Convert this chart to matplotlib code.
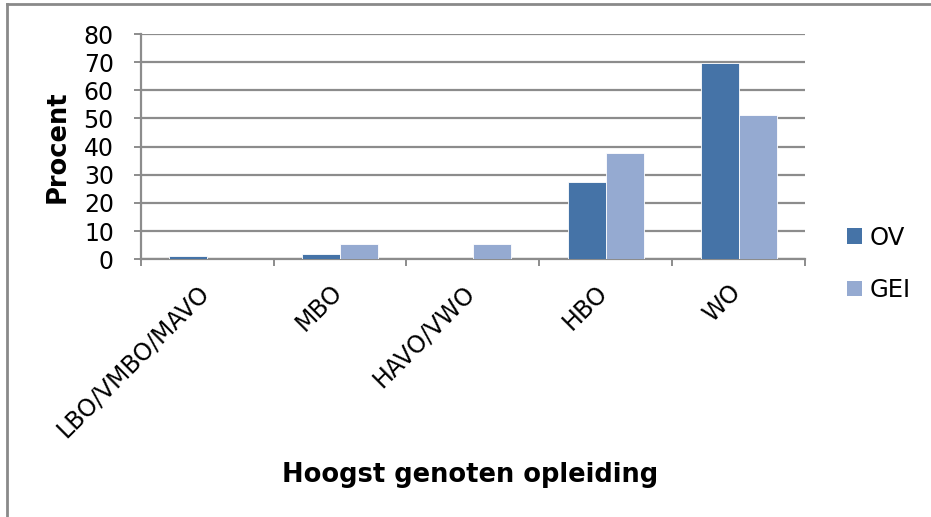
import matplotlib
matplotlib.use("Agg")
import matplotlib.pyplot as plt
import matplotlib.transforms as mtransforms
import numpy as np
from matplotlib.patches import Patch
from matplotlib.lines import Line2D

categories = ["LBO/VMBO/MAVO", "MBO", "HAVO/VWO", "HBO", "WO"]
series_names = ["OV", "GEI"]
ov_values = [1.0, 2.0, 0.0, 27.3, 69.6]
gei_values = [0.0, 5.3, 5.3, 37.7, 51.3]
yticks = [0, 10, 20, 30, 40, 50, 60, 70, 80]

c_ov = "#4573A7"
c_gei = "#95AAD1"
grid_c = "#8c8c8c"

plt.rcParams['font.family'] = ['DejaVu Sans']

fig = plt.figure(figsize=(9.31, 5.17), dpi=100)
ax = fig.add_axes([0.1511, 0.4985, 0.8647 - 0.1511, 0.9342 - 0.4985])

x = np.arange(len(categories))
w = 1 / 3.5
ax.bar(x - w / 2, ov_values, width=w, color=c_ov, edgecolor="white", linewidth=0.6, zorder=3)
ax.bar(x + w / 2, gei_values, width=w, color=c_gei, edgecolor="white", linewidth=0.6, zorder=3)

ax.set_xlim(-0.5, len(categories) - 0.5)
ax.set_ylim(0, 80)
ax.set_yticks(yticks)
ax.set_yticklabels([str(v) for v in yticks], fontsize=17)
ax.yaxis.grid(True, color=grid_c, linewidth=1.6, zorder=0)
ax.set_axisbelow(True)

# category boundary ticks
ax.set_xticks(np.arange(-0.5, len(categories), 1.0))
ax.set_xticklabels([])
ax.set_xticks(x, minor=True)
ax.set_xticklabels(categories, minor=True, rotation=45, ha="right", va="top",
                   rotation_mode="anchor", fontsize=17)
ax.tick_params(axis="x", which="minor", length=0, pad=15)
ax.tick_params(axis="x", which="major", length=5.3, width=1.4, color=grid_c, direction="out")
ax.tick_params(axis="y", length=5.3, width=1.4, color=grid_c, direction="out", pad=14)

shift = mtransforms.ScaledTranslation(-10 / 100, 0, fig.dpi_scale_trans)
for lab in ax.get_xticklabels(minor=True):
    lab.set_transform(lab.get_transform() + shift)

for s in ["top", "right"]:
    ax.spines[s].set_visible(False)
for s in ["left", "bottom"]:
    ax.spines[s].set_color(grid_c)
    ax.spines[s].set_linewidth(1.6)

ax.set_ylabel("Procent", fontsize=18.5, fontweight="bold")
ax.yaxis.set_label_coords(-0.106, 0.5)
fig.text(0.5054, 0.081, "Hoogst genoten opleiding", fontsize=18.5, fontweight="bold",
         ha="center", va="center")

handles = [Patch(facecolor=c_ov, edgecolor="none"), Patch(facecolor=c_gei, edgecolor="none")]
fig.legend(handles, series_names, loc="center left", bbox_to_anchor=(0.9098, 0.4894),
           frameon=False, fontsize=17.5, handlelength=0.62, handleheight=0.62,
           handletextpad=0.3, labelspacing=1.16, borderpad=0, borderaxespad=0)

# outer chart frame (left and top edges visible)
fig.add_artist(Line2D([0.0078, 0.0078], [0.0, 0.992], transform=fig.transFigure,
                      color="#8a8a8a", linewidth=2))
fig.add_artist(Line2D([0.0078, 1.0], [0.992, 0.992], transform=fig.transFigure,
                      color="#8a8a8a", linewidth=2))

fig.savefig("out.png", dpi=100)
